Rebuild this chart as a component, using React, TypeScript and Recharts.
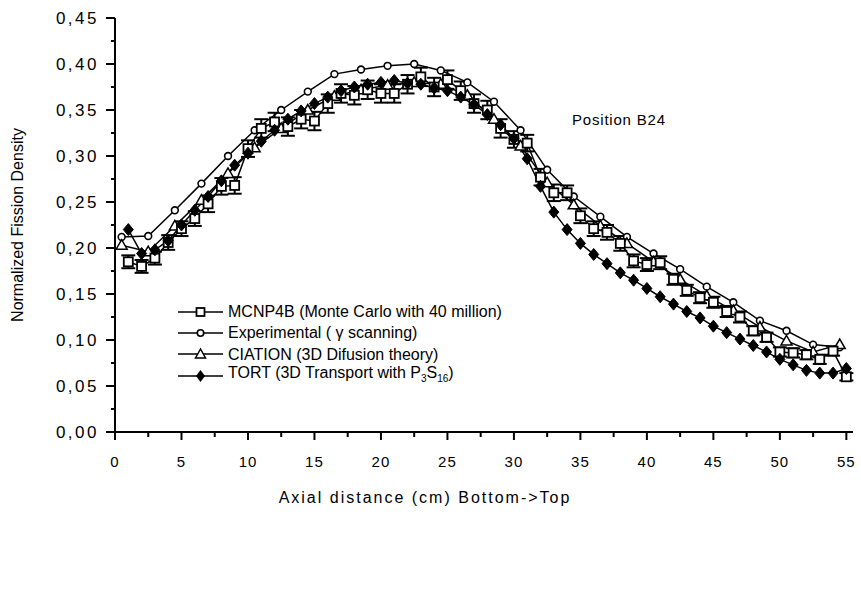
import React from 'react';
import { LineChart, Line, XAxis, YAxis, ErrorBar, Label } from 'recharts';

// MCNP4B, one point per cm
const mcnpX = [1, 2, 3, 4, 5, 6, 7, 8, 9, 10, 11, 12, 13, 14, 15, 16, 17, 18, 19, 20, 21, 22, 23, 24, 25, 26, 27, 28,
  29, 30, 31, 32, 33, 34, 35, 36, 37, 38, 39, 40, 41, 42, 43, 44, 45, 46, 47, 48, 49, 50, 51, 52, 53, 54, 55];
const mcnpY = [0.185, 0.18, 0.189, 0.206, 0.221, 0.232, 0.248, 0.267, 0.268, 0.308, 0.33, 0.337, 0.332, 0.34, 0.338,
  0.357, 0.368, 0.366, 0.372, 0.368, 0.368, 0.378, 0.386, 0.375, 0.383, 0.371, 0.357, 0.35, 0.33, 0.318, 0.314, 0.277,
  0.26, 0.26, 0.235, 0.221, 0.217, 0.205, 0.186, 0.182, 0.184, 0.166, 0.154, 0.146, 0.141, 0.131, 0.125, 0.11, 0.103,
  0.087, 0.086, 0.084, 0.079, 0.088, 0.06];
const mcnpErr = [0.007, 0.007, 0.007, 0.008, 0.008, 0.008, 0.009, 0.009, 0.009, 0.009, 0.01, 0.01, 0.01, 0.01, 0.01,
  0.01, 0.01, 0.01, 0.01, 0.01, 0.01, 0.01, 0.01, 0.01, 0.01, 0.01, 0.01, 0.01, 0.01, 0.009, 0.009, 0.009, 0.009,
  0.008, 0.008, 0.008, 0.008, 0.008, 0.007, 0.007, 0.007, 0.006, 0.006, 0.006, 0.006, 0.006, 0.006, 0.005, 0.005,
  0.005, 0.005, 0.005, 0.005, 0.005, 0.004];

// experimental and CIATION share the 2 cm grid
const expX = [0.5, 2.5, 4.5, 6.5, 8.5, 10.5, 12.5, 14.5, 16.5, 18.5, 20.5, 22.5, 24.5, 26.5, 28.5, 30.5, 32.5, 34.5,
  36.5, 38.5, 40.5, 42.5, 44.5, 46.5, 48.5, 50.5, 52.5, 54.5];
const expY = [0.212, 0.213, 0.241, 0.27, 0.3, 0.328, 0.35, 0.37, 0.389, 0.394, 0.398, 0.4, 0.393, 0.38, 0.359, 0.328,
  0.285, 0.256, 0.234, 0.212, 0.194, 0.177, 0.158, 0.141, 0.121, 0.11, 0.095, 0.092];
const ciationY = [0.203, 0.196, 0.224, 0.252, 0.281, 0.309, 0.33, 0.35, 0.365, 0.372, 0.377, 0.38, 0.378, 0.366, 0.34,
  0.311, 0.271, 0.247, 0.224, 0.205, 0.185, 0.166, 0.148, 0.132, 0.114, 0.099, 0.087, 0.095];

const tortX = mcnpX;
const tortY = [0.22, 0.194, 0.198, 0.208, 0.225, 0.241, 0.256, 0.273, 0.29, 0.303, 0.316, 0.328, 0.34, 0.349, 0.357,
  0.364, 0.371, 0.375, 0.378, 0.38, 0.382, 0.379, 0.378, 0.374, 0.371, 0.364, 0.356, 0.345, 0.334, 0.319, 0.297, 0.267,
  0.239, 0.22, 0.205, 0.193, 0.183, 0.173, 0.165, 0.156, 0.147, 0.139, 0.131, 0.124, 0.115, 0.108, 0.101, 0.094, 0.087,
  0.079, 0.073, 0.067, 0.064, 0.064, 0.069];

const xTicks = [0, 2.5, 5, 7.5, 10, 12.5, 15, 17.5, 20, 22.5, 25, 27.5, 30, 32.5, 35, 37.5, 40, 42.5, 45, 47.5, 50,
  52.5, 55];
const yTicks = [0, 0.025, 0.05, 0.075, 0.1, 0.125, 0.15, 0.175, 0.2, 0.225, 0.25, 0.275, 0.3, 0.325, 0.35, 0.375, 0.4,
  0.425, 0.45];

const mcnpData = mcnpX.map((x, i) => ({ x, y: mcnpY[i], err: mcnpErr[i] }));
const expData = expX.map((x, i) => ({ x, y: expY[i] }));
const ciationData = expX.map((x, i) => ({ x, y: ciationY[i] }));
const tortData = tortX.map((x, i) => ({ x, y: tortY[i] }));

const FONT = '"Liberation Sans", Arial, sans-serif';

const square = (p: any) => (
  <rect key={`sq-${p.index}`} x={p.cx - 4.5} y={p.cy - 4.5} width={9} height={9} fill="#fff" stroke="#000" strokeWidth={1.8} />
);
const circle = (p: any) => (
  <circle key={`ci-${p.index}`} cx={p.cx} cy={p.cy} r={3.4} fill="#fff" stroke="#000" strokeWidth={1.6} />
);
const triangle = (p: any) => (
  <polygon key={`tr-${p.index}`} points={`${p.cx},${p.cy - 5.5} ${p.cx - 5.5},${p.cy + 4} ${p.cx + 5.5},${p.cy + 4}`}
    fill="#fff" stroke="#000" strokeWidth={1.5} />
);
const diamond = (p: any) => (
  <polygon key={`di-${p.index}`} points={`${p.cx},${p.cy - 6} ${p.cx + 5},${p.cy} ${p.cx},${p.cy + 6} ${p.cx - 5},${p.cy}`}
    fill="#000" stroke="#000" strokeWidth={1} />
);

const XTick = ({ x, y, payload }: any) => {
  const major = payload.value % 5 === 0;
  return (
    <g>
      <line x1={x} y1={y} x2={x} y2={y + (major ? 8 : 5)} stroke="#000" strokeWidth={2} />
      {major && (
        <text x={x} y={y + 35} textAnchor="middle" fontFamily={FONT} fontSize={15} letterSpacing={1} fill="#000">
          {payload.value}
        </text>
      )}
    </g>
  );
};

const YTick = ({ x, y, payload }: any) => {
  const major = Math.round(payload.value * 1000) % 50 === 0;
  return (
    <g>
      <line x1={x} y1={y} x2={x - (major ? 9 : 4)} y2={y} stroke="#000" strokeWidth={2} />
      {major && (
        <text x={x - 16} y={y + 6} textAnchor="end" fontFamily={FONT} fontSize={17} letterSpacing={2.5} fill="#000">
          {payload.value.toFixed(2).replace('.', ',')}
        </text>
      )}
    </g>
  );
};

const legendRows = [
  { key: 'mcnp', text: <>MCNP4B (Monte Carlo with 40 million)</> },
  { key: 'exp', text: <>Experimental ( γ scanning)</> },
  { key: 'ciation', text: <>CIATION (3D Difusion theory)</> },
  { key: 'tort', text: <>TORT (3D Transport with P<sub style={{ fontSize: 10 }}>3</sub>S<sub style={{ fontSize: 10 }}>16</sub>)</> },
];

const LegendSymbol = ({ kind }: { kind: string }) => (
  <svg width={48} height={16} style={{ display: 'block' }}>
    <line x1={0} y1={8} x2={45} y2={8} stroke="#000" strokeWidth={1.6} />
    {kind === 'mcnp' && <rect x={18.5} y={4} width={8} height={8} fill="#fff" stroke="#000" strokeWidth={1.8} />}
    {kind === 'exp' && <circle cx={22.5} cy={8} r={3.2} fill="#fff" stroke="#000" strokeWidth={1.6} />}
    {kind === 'ciation' && <polygon points="22.5,3 17.5,12 27.5,12" fill="#fff" stroke="#000" strokeWidth={1.5} />}
    {kind === 'tort' && <polygon points="22.5,2 27,8 22.5,14 18,8" fill="#000" />}
  </svg>
);

const LegendBox = () => (
  <div style={{ position: 'absolute', left: 178, top: 301, fontFamily: FONT, fontSize: 16, color: '#000' }}>
    {legendRows.map((r) => (
      <div key={r.key} style={{ display: 'flex', alignItems: 'center', height: 21.3, whiteSpace: 'nowrap' }}>
        <LegendSymbol kind={r.key} />
        <span style={{ marginLeft: 2, lineHeight: '21px' }}>{r.text}</span>
      </div>
    ))}
  </div>
);

export default function App() {
  return (
    <div style={{ position: 'absolute', left: 0, top: 0, width: 861, height: 595, background: '#fff' }}>
      <LineChart width={861} height={595} margin={{ top: 18, right: 8, left: 15, bottom: 93 }}>
        <XAxis type="number" dataKey="x" domain={[0, 55.5]} ticks={xTicks} interval={0} tick={<XTick />}
          tickSize={0} tickMargin={0} tickLine={false} height={70} allowDataOverflow
          axisLine={{ stroke: '#000', strokeWidth: 2 }}>
          <Label content={() => (
            <text x={425} y={503} textAnchor="middle" fontFamily={FONT} fontSize={16} letterSpacing={2} fill="#000">
              Axial distance (cm) Bottom-&gt;Top
            </text>
          )} />
        </XAxis>
        <YAxis type="number" domain={[0, 0.45]} ticks={yTicks} interval={0} tick={<YTick />} width={100}
          tickSize={0} tickMargin={0} tickLine={false} allowDataOverflow
          axisLine={{ stroke: '#000', strokeWidth: 2 }}>
          <Label content={() => (
            <text x={23} y={225} transform="rotate(-90 23 225)" textAnchor="middle" fontFamily={FONT} fontSize={16} fill="#000">
              Normalized Fission Density
            </text>
          )} />
        </YAxis>
        <Line data={expData} dataKey="y" type="linear" stroke="#000" strokeWidth={1.5} dot={circle}
          isAnimationActive={false} legendType="none" />
        <Line data={ciationData} dataKey="y" type="linear" stroke="#000" strokeWidth={1.5} dot={triangle}
          isAnimationActive={false} legendType="none" />
        <Line data={mcnpData} dataKey="y" type="linear" stroke="#000" strokeWidth={1.5} dot={square}
          isAnimationActive={false} legendType="none">
          <ErrorBar dataKey="err" width={7} stroke="#000" strokeWidth={2} direction="y" isAnimationActive={false} />
        </Line>
        <Line data={tortData} dataKey="y" type="linear" stroke="#000" strokeWidth={1.5} dot={diamond}
          isAnimationActive={false} legendType="none" />
      </LineChart>
      <LegendBox />
      <div style={{ position: 'absolute', left: 572, top: 111, fontFamily: FONT, fontSize: 15, letterSpacing: 0.8, color: '#000' }}>
        Position B24
      </div>
    </div>
  );
}
